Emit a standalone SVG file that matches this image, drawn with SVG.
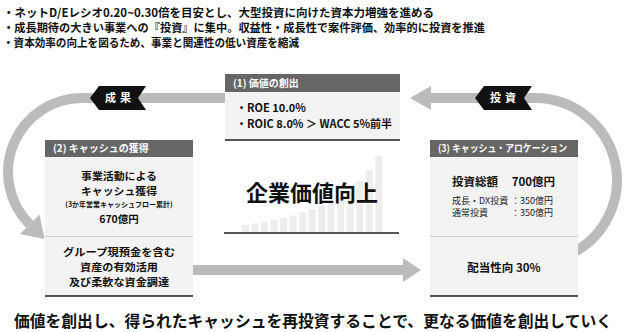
<svg xmlns="http://www.w3.org/2000/svg" width="624" height="332" viewBox="0 0 624 332">
<style>
text{font-family:"Noto Sans CJK JP","Noto Sans",sans-serif;font-weight:bold;fill:#111}
.hd{fill:#666}
.bd{fill:#f3f3f3}
.bl{stroke:#555;stroke-width:2}
.dv{stroke:#cfcfcf;stroke-width:1}
.ht{fill:#fff;font-size:10px}
.b12{font-size:11.5px}
.b11{font-size:10.5px}
.rg{font-weight:normal;font-size:9px;fill:#222}
.band{fill:none;stroke:#bbb;stroke-width:10}
.ah{fill:#bbb}
.bar{fill:#ededed}
.badge{fill:#111}
.bt{fill:#fff;font-size:11px;letter-spacing:4px}
</style>
<rect width="624" height="332" fill="#fff"/>
<g id="intro">
<text class="b12" x="3" y="16.5" textLength="431" lengthAdjust="spacingAndGlyphs">・ネットD/Eレシオ0.20~0.30倍を目安とし、大型投資に向けた資本力増強を進める</text>
<text class="b12" x="3" y="31.5" textLength="482" lengthAdjust="spacingAndGlyphs">・成長期待の大きい事業への『投資』に集中。収益性・成長性で案件評価、効率的に投資を推進</text>
<text class="b12" x="3" y="46.5" textLength="296" lengthAdjust="spacingAndGlyphs">・資本効率の向上を図るため、事業と関連性の低い資産を縮減</text>
</g>
<g id="connectors">
<path class="band" d="M225 98 L82 98 A74 74 0 0 0 29.7 224.3"/>
<polygon class="ah" points="39.5,214.5 20,234 44.5,239.1"/>
<path class="band" d="M475 98 L535 98 A82 82 0 0 1 569.7 254.3"/>
<path class="band" d="M475 98 L428 98"/>
<polygon class="ah" points="410,98 431,86 431,110"/>
<path class="band" d="M190 270 L404 270"/>
<polygon class="ah" points="403,258 421,270 403,282"/>
</g>
<g id="badge-seika">
<polygon class="badge" points="90,98 99,86 146,86 138,98 146,110 99,110"/>
<text class="bt" x="120" y="102" text-anchor="middle">成果</text>
</g>
<g id="badge-toushi">
<polygon class="badge" points="475,98 484,86 532,86 524,98 532,110 484,110"/>
<text class="bt" x="505" y="102" text-anchor="middle">投資</text>
</g>
<g id="box1">
<rect class="hd" x="225" y="74" width="175" height="18"/>
<rect class="bd" x="225" y="92" width="175" height="47"/>
<line class="bl" x1="225" y1="140" x2="400" y2="140"/>
<text class="ht" x="233" y="87">(1) 価値の創出</text>
<text x="236" y="112" font-size="11">・ROE 10.0%</text>
<text x="236" y="128" font-size="11">・ROIC 8.0% ＞ WACC 5%前半</text>
</g>
<g id="center">
<rect class="bar" x="242" y="225" width="7" height="7"/>
<rect class="bar" x="251.5" y="223.5" width="7" height="8.5"/>
<rect class="bar" x="261" y="222" width="7" height="10"/>
<rect class="bar" x="270.6" y="220" width="7" height="12"/>
<rect class="bar" x="280.1" y="218" width="7" height="14"/>
<rect class="bar" x="289.6" y="215.5" width="7" height="16.5"/>
<rect class="bar" x="299.1" y="212.5" width="7" height="19.5"/>
<rect class="bar" x="308.6" y="209" width="7" height="23"/>
<rect class="bar" x="318.2" y="205.5" width="7" height="26.5"/>
<rect class="bar" x="327.7" y="201.5" width="7" height="30.5"/>
<rect class="bar" x="337.2" y="197" width="7" height="35"/>
<rect class="bar" x="346.7" y="191" width="7" height="41"/>
<rect class="bar" x="356.2" y="181" width="7" height="51"/>
<rect class="bar" x="365.8" y="170" width="7" height="62"/>
<rect class="bar" x="375.3" y="156" width="7" height="76"/>
<line class="bl" x1="224" y1="233" x2="399" y2="233"/>
<text x="312" y="201" font-size="22" text-anchor="middle">企業価値向上</text>
</g>
<g id="box2">
<rect class="hd" x="45" y="140" width="148" height="17"/>
<rect class="bd" x="45" y="157" width="148" height="138"/>
<line class="dv" x1="45" y1="236.5" x2="193" y2="236.5"/>
<line class="bl" x1="45" y1="296" x2="193" y2="296"/>
<text class="ht" x="53" y="152">(2) キャッシュの獲得</text>
<g text-anchor="middle">
<text class="b11" x="119" y="180" textLength="76" lengthAdjust="spacingAndGlyphs">事業活動による</text>
<text class="b11" x="119" y="195" textLength="76" lengthAdjust="spacingAndGlyphs">キャッシュ獲得</text>
<text x="119" y="206.5" font-size="7" font-weight="normal">(3か年営業キャッシュフロー累計)</text>
<text class="b11" x="119" y="223">670億円</text>
<text class="b11" x="119" y="256" textLength="112" lengthAdjust="spacingAndGlyphs">グループ現預金を含む</text>
<text class="b11" x="119" y="271" textLength="78" lengthAdjust="spacingAndGlyphs">資産の有効活用</text>
<text class="b11" x="119" y="286" textLength="100" lengthAdjust="spacingAndGlyphs">及び柔軟な資金調達</text>
</g>
</g>
<g id="box3">
<rect class="hd" x="430" y="140" width="148" height="17"/>
<rect class="bd" x="430" y="157" width="148" height="138"/>
<line class="dv" x1="430" y1="236.5" x2="578" y2="236.5"/>
<line class="bl" x1="430" y1="296" x2="578" y2="296"/>
<text class="ht" x="438" y="152" textLength="129" lengthAdjust="spacingAndGlyphs">(3) キャッシュ・アロケーション</text>
<text class="b12" x="452" y="186">投資総額</text>
<text class="b12" x="555" y="186" text-anchor="end">700億円</text>
<text class="rg" x="452" y="204">成長・DX投資</text>
<text class="rg" x="511" y="204">：350億円</text>
<text class="rg" x="452" y="216">通常投資</text>
<text class="rg" x="511" y="216">：350億円</text>
<text class="b12" x="504" y="272" text-anchor="middle">配当性向 30%</text>
</g>
<g id="summary">
<text x="14" y="327" font-size="16" textLength="598" lengthAdjust="spacingAndGlyphs">価値を創出し、得られたキャッシュを再投資することで、更なる価値を創出していく</text>
</g>
</svg>
